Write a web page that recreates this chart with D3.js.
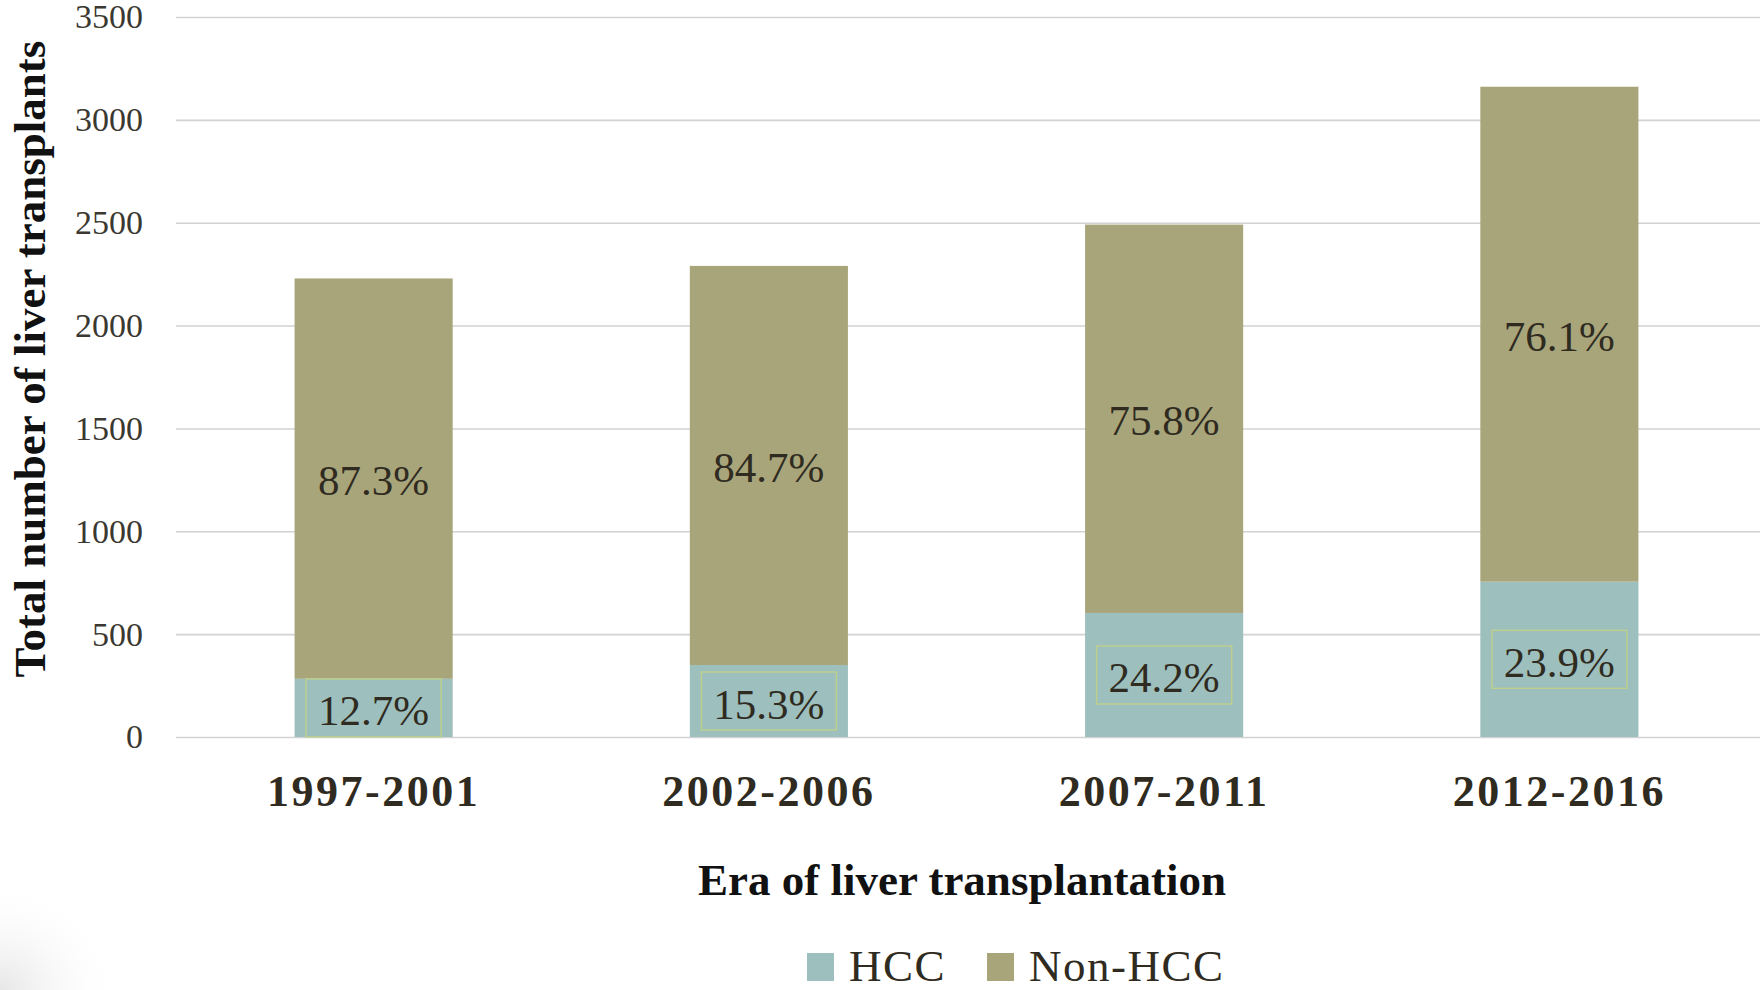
<!DOCTYPE html>
<html>
<head>
<meta charset="utf-8">
<script src="https://cdn.jsdelivr.net/npm/d3@7"></script>
<style>
  html, body { margin: 0; padding: 0; background: #fff; }
  svg { display: block; }
</style>
</head>
<body>
<svg id="chart"></svg>
<script>
var eras = ["1997-2001", "2002-2006", "2007-2011", "2012-2016"];
var hcc = [283, 350, 603, 755];
var nonHcc = [1946, 1940, 1888, 2406];
var hccPct = ["12.7%", "15.3%", "24.2%", "23.9%"];
var nonHccPct = ["87.3%", "84.7%", "75.8%", "76.1%"];
var yTicks = [0, 500, 1000, 1500, 2000, 2500, 3000, 3500];
var seriesNames = ["HCC", "Non-HCC"];

var W = 1760, H = 990;
var margin = { top: 17, left: 176, bottom: 253, right: 3 };
var width = W - margin.left - margin.right;
var height = H - margin.top - margin.bottom;

var serif = "'Liberation Serif', 'DejaVu Serif', serif";
var textColor = "#2f2b21";

var svg = d3.select("#chart")
    .attr("width", W)
    .attr("height", H);

// faint shading bottom-left corner
var defs = svg.append("defs");
var grad = defs.append("radialGradient")
    .attr("id", "corner")
    .attr("cx", 0).attr("cy", 1).attr("r", 1);
grad.append("stop").attr("offset", "0%").attr("stop-color", "#e6e6e6");
grad.append("stop").attr("offset", "100%").attr("stop-color", "#ffffff").attr("stop-opacity", 0);
svg.append("rect")
    .attr("x", 0).attr("y", H - 110)
    .attr("width", 120).attr("height", 110)
    .attr("fill", "url(#corner)");

var g = svg.append("g")
    .attr("transform", "translate(" + margin.left + "," + margin.top + ")");

var xScale = d3.scaleBand()
    .domain(eras)
    .range([0, width])
    .paddingInner(0.6)
    .paddingOuter(0.3);

var yScale = d3.scaleLinear()
    .domain([0, 3500])
    .range([height, 0]);

var color = d3.scaleOrdinal()
    .domain(seriesNames)
    .range(["#9dbfbd", "#a8a57b"]);

// gridlines
g.append("g")
    .attr("class", "grid")
    .call(d3.axisLeft(yScale).tickValues(yTicks).tickSize(-(width + margin.right)).tickFormat(""))
    .call(function(s) {
        s.select(".domain").remove();
        s.selectAll("line").attr("stroke", "#d2d2d2").attr("stroke-width", 1.6);
    });

// y axis labels
g.append("g")
    .attr("class", "yaxis")
    .call(d3.axisLeft(yScale).tickValues(yTicks).tickFormat(d3.format("d")).tickSize(0).tickPadding(33))
    .call(function(s) {
        s.select(".domain").remove();
        s.selectAll("text")
            .attr("font-family", serif)
            .attr("font-size", "34px")
            .attr("fill", "#3a3831");
    });

// stacked data
var rows = eras.map(function(e, i) {
    return { era: e, "HCC": hcc[i], "Non-HCC": nonHcc[i], i: i };
});
var stacked = d3.stack().keys(seriesNames)(rows);

var layers = g.selectAll(".layer")
    .data(stacked)
    .enter()
    .append("g")
    .attr("class", "layer")
    .attr("fill", function(d) { return color(d.key); });

layers.selectAll("rect")
    .data(function(d) { return d; })
    .enter()
    .append("rect")
    .attr("x", function(d) { return xScale(d.data.era); })
    .attr("width", xScale.bandwidth())
    .attr("y", function(d) { return yScale(d[1]); })
    .attr("height", function(d) { return yScale(d[0]) - yScale(d[1]); });

// Non-HCC labels
g.selectAll(".lblTop")
    .data(stacked[1])
    .enter()
    .append("text")
    .attr("x", function(d) { return xScale(d.data.era) + xScale.bandwidth() / 2; })
    .attr("y", function(d) { return (yScale(d[0]) + yScale(d[1])) / 2 + 2; })
    .attr("text-anchor", "middle")
    .attr("dominant-baseline", "central")
    .attr("font-family", serif)
    .attr("font-size", "43px")
    .attr("fill", textColor)
    .text(function(d) { return nonHccPct[d.data.i]; });

// HCC labels with box
var hl = g.selectAll(".lblBot")
    .data(stacked[0])
    .enter()
    .append("g")
    .attr("transform", function(d) {
        return "translate(" + (xScale(d.data.era) + xScale.bandwidth() / 2) + "," + ((yScale(d[0]) + yScale(d[1])) / 2) + ")";
    });

hl.append("rect")
    .attr("x", -67.5)
    .attr("y", -29)
    .attr("width", 135)
    .attr("height", 58)
    .attr("fill", "none")
    .attr("stroke", "#bccf8f")
    .attr("stroke-width", 1.5);

hl.append("text")
    .attr("y", 3)
    .attr("text-anchor", "middle")
    .attr("dominant-baseline", "central")
    .attr("font-family", serif)
    .attr("font-size", "43px")
    .attr("fill", textColor)
    .text(function(d) { return hccPct[d.data.i]; });

// x axis labels
g.append("g")
    .attr("class", "xaxis")
    .attr("transform", "translate(0," + height + ")")
    .call(d3.axisBottom(xScale).tickSize(0).tickPadding(0))
    .call(function(s) {
        s.select(".domain").remove();
        s.selectAll("text")
            .attr("dy", null)
            .attr("y", 69)
            .attr("font-family", serif)
            .attr("font-weight", "bold")
            .attr("font-size", "44px")
            .attr("letter-spacing", "2.5px")
            .attr("fill", textColor);
    });

// axis titles
svg.append("text")
    .attr("x", 962)
    .attr("y", 895)
    .attr("text-anchor", "middle")
    .attr("font-family", serif)
    .attr("font-weight", "bold")
    .attr("font-size", "45px")
    .attr("fill", "#111")
    .text("Era of liver transplantation");

svg.append("text")
    .attr("transform", "translate(45,359) rotate(-90)")
    .attr("text-anchor", "middle")
    .attr("font-family", serif)
    .attr("font-weight", "bold")
    .attr("font-size", "45px")
    .attr("fill", "#111")
    .text("Total number of liver transplants");

// legend
var legendX = [807, 987];
var legend = svg.selectAll(".legend")
    .data(seriesNames)
    .enter()
    .append("g")
    .attr("transform", function(d, i) { return "translate(" + legendX[i] + ",953)"; });

legend.append("rect")
    .attr("width", 27)
    .attr("height", 28)
    .attr("fill", function(d) { return color(d); });

legend.append("text")
    .attr("x", 42)
    .attr("y", 28)
    .attr("font-family", serif)
    .attr("font-size", "45px")
    .attr("letter-spacing", "1.5px")
    .attr("fill", textColor)
    .text(function(d) { return d; });
</script>
</body>
</html>
